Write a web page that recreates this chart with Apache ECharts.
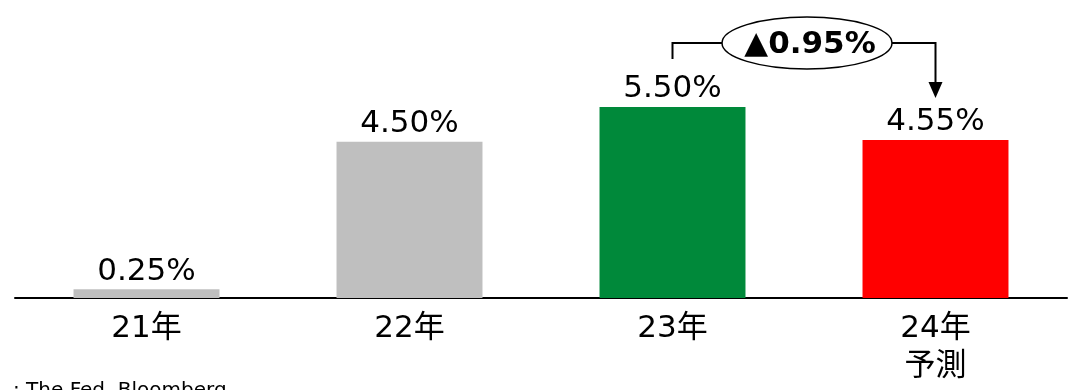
<!DOCTYPE html>
<html>
<head>
<meta charset="utf-8">
<script src="https://cdn.jsdelivr.net/npm/echarts@6/dist/echarts.min.js"></script>
<style>
  html, body { margin: 0; padding: 0; background: #fff; }
  #main { width: 1076px; height: 390px; }
</style>
</head>
<body>
<div id="main"></div>
<script>
var categories = ['21年', '22年', '23年', '24年\n予測'];
var rates = [0.25, 4.50, 5.50, 4.55];
var barColors = ['#BFBFBF', '#BFBFBF', '#00893A', '#FF0000'];
var diffText = '▲0.95%';
var sourceText = ': The Fed, Bloomberg';

var font = '"DejaVu Sans", "Noto Sans CJK JP", sans-serif';

var myChart = echarts.init(document.getElementById('main'));

var option = {
    animation: false,
    grid: { left: 15, right: 9, top: 20, bottom: 92 },
    xAxis: {
        type: 'category',
        data: categories,
        axisTick: { show: false },
        axisLine: { lineStyle: { color: '#000', width: 2 } },
        axisLabel: {
            color: '#000', fontSize: 31, fontFamily: font,
            lineHeight: 38, margin: 12
        }
    },
    yAxis: {
        type: 'value', min: 0, max: 8,
        show: false
    },
    series: [{
        type: 'bar',
        barWidth: '55.5%',
        data: rates.map(function (v, i) {
            return { value: v, itemStyle: { color: barColors[i] } };
        }),
        label: {
            show: true, position: 'top', distance: 2,
            color: '#000', fontSize: 31, fontFamily: font,
            formatter: function (p) { return p.value.toFixed(2) + '%'; }
        }
    }]
};
myChart.setOption(option);

// annotation bracket between 23年 and 24年
var p23 = myChart.convertToPixel({ seriesIndex: 0 }, [2, rates[2]]);
var p24 = myChart.convertToPixel({ seriesIndex: 0 }, [3, rates[3]]);
var yTop = 43;
var cx = (p23[0] + p24[0]) / 2 + 3;
var rx = 85, ry = 26;

myChart.setOption({
    graphic: [
        { type: 'polyline', shape: { points: [[p23[0], 59], [p23[0], yTop], [cx - rx, yTop]] },
          style: { stroke: '#000', lineWidth: 2, fill: null } },
        { type: 'polyline', shape: { points: [[cx + rx, yTop], [p24[0], yTop], [p24[0], 84]] },
          style: { stroke: '#000', lineWidth: 2, fill: null } },
        { type: 'polygon', shape: { points: [[p24[0] - 7, 82], [p24[0] + 7, 82], [p24[0], 98]] },
          style: { fill: '#000' } },
        { type: 'ellipse', shape: { cx: cx, cy: yTop, rx: rx, ry: ry },
          style: { fill: '#fff', stroke: '#000', lineWidth: 1.5 } },
        { type: 'text', x: cx + 3, y: yTop + 2,
          style: { text: diffText, fill: '#000', font: 'bold 31px ' + font,
                   align: 'center', verticalAlign: 'middle' } },
        { type: 'text', x: 13, y: 381,
          style: { text: sourceText, fill: '#000', font: '20px ' + font,
                   align: 'left', verticalAlign: 'top' } }
    ]
});
</script>
</body>
</html>
